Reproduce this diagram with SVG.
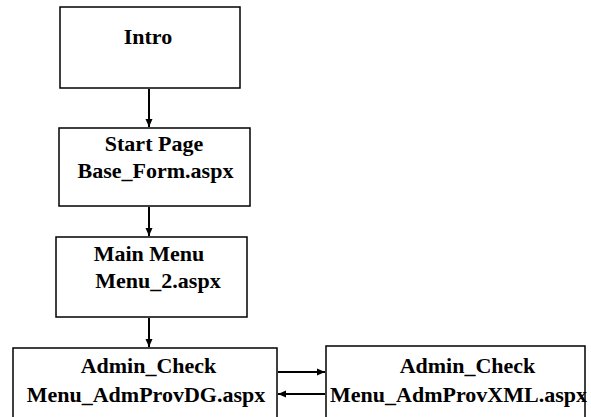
<svg xmlns="http://www.w3.org/2000/svg" width="591" height="417" viewBox="0 0 591 417">
<style>
.box{fill:#fff;stroke:#000;stroke-width:1.5}
.t{font-family:"Liberation Serif","Times New Roman",serif;font-weight:bold;font-size:22px;fill:#000;text-anchor:middle}
.c{stroke:#000;stroke-width:2;fill:none;marker-end:url(#ah)}
</style>
<defs>
<marker id="ah" viewBox="0 0 8 8" refX="8" refY="4" markerWidth="8" markerHeight="8" markerUnits="userSpaceOnUse" orient="auto">
<path d="M0,0.5 L8,4 L0,7.5 Z" fill="#000"/>
</marker>
</defs>
<rect width="591" height="417" fill="#fff"/>
<g id="connectors">
<line class="c" x1="149" y1="89" x2="149" y2="127"/>
<line class="c" x1="149" y1="207" x2="149" y2="236"/>
<line class="c" x1="149" y1="318" x2="149" y2="347"/>
<line class="c" x1="278" y1="372" x2="325" y2="372"/>
<line class="c" x1="325" y1="394" x2="278" y2="394"/>
</g>
<g id="intro">
<rect class="box" x="60" y="7" width="180" height="81"/>
<text class="t" x="148" y="44">Intro</text>
</g>
<g id="start">
<rect class="box" x="59" y="128" width="191" height="78"/>
<text class="t" x="154" y="151">Start Page</text>
<text class="t" x="155.5" y="178">Base_Form.aspx</text>
</g>
<g id="mainmenu">
<rect class="box" x="56" y="237" width="191" height="80"/>
<text class="t" x="149" y="261">Main Menu</text>
<text class="t" x="158" y="288">Menu_2.aspx</text>
</g>
<g id="admin_dg">
<rect class="box" x="13" y="348" width="264" height="80"/>
<text class="t" x="148.5" y="373">Admin_Check</text>
<text class="t" x="146" y="402">Menu_AdmProvDG.aspx</text>
</g>
<g id="admin_xml">
<rect class="box" x="326" y="346" width="259" height="82"/>
<text class="t" x="467.5" y="373">Admin_Check</text>
<text class="t" x="458.5" y="402">Menu_AdmProvXML.aspx</text>
</g>
</svg>
